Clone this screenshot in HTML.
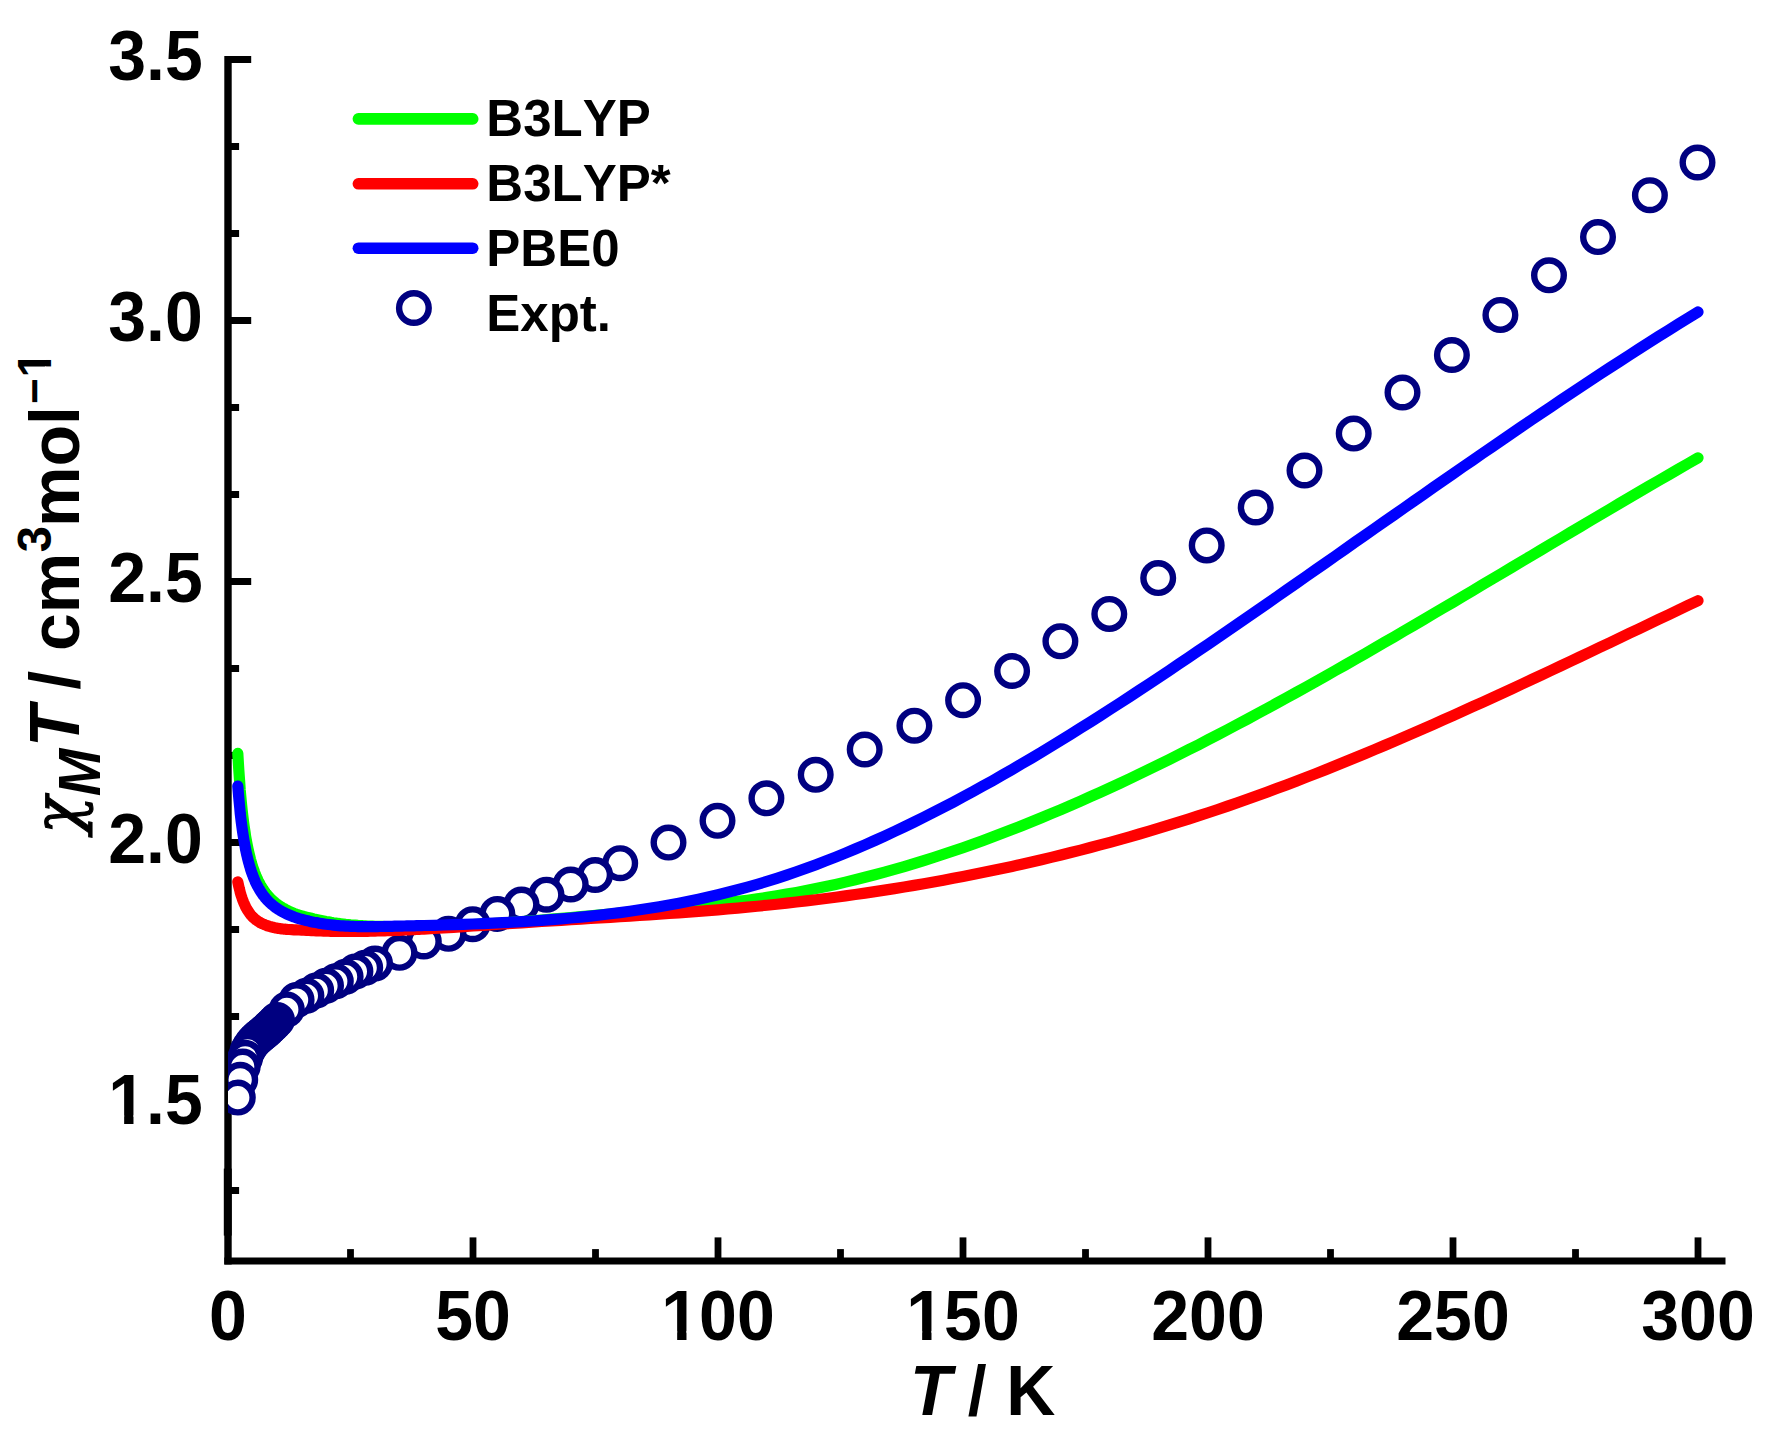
<!DOCTYPE html>
<html lang="en"><head><meta charset="utf-8"><title>chi_M T vs T</title>
<style>html,body{margin:0;padding:0;background:#fff}svg{display:block}text{font-kerning:none;font-variant-ligatures:none}</style></head>
<body>
<svg width="1768" height="1440" viewBox="0 0 1768 1440">
<rect width="1768" height="1440" fill="#fff"/>
<defs><clipPath id="pa"><rect x="228" y="0" width="1540" height="1261"/></clipPath></defs>
<g fill="#000">
<rect x="224.3" y="56" width="7.4" height="1208.5"/>
<rect x="224.3" y="1257.5" width="1501.2" height="7"/>
<rect x="223.8" y="1168.6" width="7.9" height="67"/>
<rect x="228" y="56.0" width="23.2" height="7"/>
<rect x="228" y="143.0" width="11.1" height="7"/>
<rect x="228" y="230.0" width="11.1" height="7"/>
<rect x="228" y="317.0" width="23.2" height="7"/>
<rect x="228" y="404.0" width="11.1" height="7"/>
<rect x="228" y="491.0" width="11.1" height="7"/>
<rect x="228" y="578.0" width="23.2" height="7"/>
<rect x="228" y="665.0" width="11.1" height="7"/>
<rect x="228" y="752.0" width="11.1" height="7"/>
<rect x="228" y="839.0" width="23.2" height="7"/>
<rect x="228" y="926.0" width="11.1" height="7"/>
<rect x="228" y="1013.0" width="11.1" height="7"/>
<rect x="228" y="1100.0" width="23.2" height="7"/>
<rect x="228" y="1187.0" width="11.1" height="7"/>
<rect x="347.1" y="1249.1" width="6.8" height="11.9"/>
<rect x="469.6" y="1237.4" width="6.8" height="23.6"/>
<rect x="592.1" y="1249.1" width="6.8" height="11.9"/>
<rect x="714.6" y="1237.4" width="6.8" height="23.6"/>
<rect x="837.1" y="1249.1" width="6.8" height="11.9"/>
<rect x="959.6" y="1237.4" width="6.8" height="23.6"/>
<rect x="1082.1" y="1249.1" width="6.8" height="11.9"/>
<rect x="1204.6" y="1237.4" width="6.8" height="23.6"/>
<rect x="1327.1" y="1249.1" width="6.8" height="11.9"/>
<rect x="1449.6" y="1237.4" width="6.8" height="23.6"/>
<rect x="1572.1" y="1249.1" width="6.8" height="11.9"/>
<rect x="1694.6" y="1237.4" width="6.8" height="23.6"/>
</g>
<g clip-path="url(#pa)" fill="#fff" stroke="#000080" stroke-width="6.4">
<circle cx="1697.5" cy="162.5" r="14.8"/>
<circle cx="1649.9" cy="195.2" r="14.8"/>
<circle cx="1598.0" cy="237.1" r="14.8"/>
<circle cx="1549.0" cy="275.3" r="14.8"/>
<circle cx="1500.4" cy="314.9" r="14.8"/>
<circle cx="1451.9" cy="355.0" r="14.8"/>
<circle cx="1402.5" cy="392.5" r="14.8"/>
<circle cx="1353.7" cy="433.6" r="14.8"/>
<circle cx="1304.5" cy="470.5" r="14.8"/>
<circle cx="1255.7" cy="507.5" r="14.8"/>
<circle cx="1206.7" cy="545.4" r="14.8"/>
<circle cx="1158.2" cy="578.1" r="14.8"/>
<circle cx="1109.3" cy="613.9" r="14.8"/>
<circle cx="1060.4" cy="641.3" r="14.8"/>
<circle cx="1012.1" cy="671.0" r="14.8"/>
<circle cx="963.1" cy="700.2" r="14.8"/>
<circle cx="914.4" cy="725.7" r="14.8"/>
<circle cx="864.7" cy="749.5" r="14.8"/>
<circle cx="815.7" cy="774.8" r="14.8"/>
<circle cx="766.4" cy="798.3" r="14.8"/>
<circle cx="717.5" cy="820.8" r="14.8"/>
<circle cx="668.5" cy="842.6" r="14.8"/>
<circle cx="620.2" cy="863.2" r="14.8"/>
<circle cx="595.1" cy="875.0" r="14.8"/>
<circle cx="570.7" cy="884.5" r="14.8"/>
<circle cx="546.5" cy="894.7" r="14.8"/>
<circle cx="521.5" cy="904.6" r="14.8"/>
<circle cx="497.4" cy="913.9" r="14.8"/>
<circle cx="472.7" cy="924.2" r="14.8"/>
<circle cx="448.5" cy="933.8" r="14.8"/>
<circle cx="423.8" cy="941.5" r="14.8"/>
<circle cx="399.5" cy="952.8" r="14.8"/>
<circle cx="375.0" cy="963.5" r="14.8"/>
<circle cx="365.2" cy="967.7" r="14.8"/>
<circle cx="355.4" cy="971.5" r="14.8"/>
<circle cx="345.6" cy="976.7" r="14.8"/>
<circle cx="335.8" cy="981.2" r="14.8"/>
<circle cx="326.0" cy="985.7" r="14.8"/>
<circle cx="316.2" cy="990.4" r="14.8"/>
<circle cx="306.4" cy="995.7" r="14.8"/>
<circle cx="296.6" cy="1000.0" r="14.8"/>
<circle cx="286.8" cy="1009.4" r="14.8"/>
<circle cx="277.0" cy="1020.0" r="14.8"/>
<circle cx="274.6" cy="1022.5" r="14.8"/>
<circle cx="272.1" cy="1024.9" r="14.8"/>
<circle cx="269.6" cy="1027.3" r="14.8"/>
<circle cx="267.2" cy="1029.8" r="14.8"/>
<circle cx="264.8" cy="1031.8" r="14.8"/>
<circle cx="262.3" cy="1033.8" r="14.8"/>
<circle cx="259.9" cy="1035.8" r="14.8"/>
<circle cx="257.4" cy="1038.0" r="14.8"/>
<circle cx="254.9" cy="1040.3" r="14.8"/>
<circle cx="252.5" cy="1043.0" r="14.8"/>
<circle cx="250.1" cy="1046.5" r="14.8"/>
<circle cx="247.6" cy="1050.8" r="14.8"/>
<circle cx="245.2" cy="1057.8" r="14.8"/>
<circle cx="242.7" cy="1066.6" r="14.8"/>
<circle cx="240.2" cy="1079.8" r="14.8"/>
<circle cx="237.8" cy="1097.6" r="14.8"/>
</g>
<g fill="none" stroke-width="11.2" stroke-linecap="round" stroke-linejoin="round">
<path stroke="#00ff00" d="M237.8 753.4 L238.3 761.9 L238.8 769.8 L239.3 777.0 L239.8 783.7 L240.2 789.9 L240.7 795.6 L241.2 800.9 L241.7 805.9 L242.2 810.6 L242.7 814.9 L243.2 819.0 L243.7 822.9 L244.2 826.5 L244.7 829.9 L245.2 833.1 L245.6 836.2 L246.1 839.0 L246.6 841.8 L247.1 844.4 L247.6 846.9 L248.1 849.2 L248.6 851.5 L249.1 853.6 L249.6 855.6 L250.1 857.6 L250.5 859.5 L251.0 861.2 L251.5 863.0 L252.0 864.6 L252.5 866.2 L253.0 867.7 L253.5 869.1 L254.0 870.5 L254.5 871.9 L255.0 873.2 L255.4 874.4 L255.9 875.6 L256.4 876.8 L256.9 877.9 L257.4 879.0 L257.9 880.0 L258.4 881.1 L258.9 882.0 L259.4 883.0 L259.9 883.9 L260.3 884.8 L260.8 885.6 L261.3 886.5 L261.8 887.3 L262.3 888.1 L262.8 888.8 L263.3 889.6 L263.8 890.3 L264.3 891.0 L264.8 891.7 L265.2 892.3 L265.7 893.0 L266.2 893.6 L266.7 894.2 L267.2 894.8 L267.7 895.4 L268.2 896.0 L268.7 896.5 L269.2 897.0 L269.7 897.6 L270.1 898.1 L270.6 898.6 L271.1 899.1 L271.6 899.5 L272.1 900.0 L272.6 900.5 L273.1 900.9 L273.6 901.3 L274.1 901.8 L274.6 902.2 L275.0 902.6 L275.5 903.0 L276.0 903.4 L276.5 903.7 L277.0 904.1 L277.5 904.5 L278.0 904.8 L278.5 905.2 L279.0 905.5 L279.5 905.8 L279.9 906.2 L280.4 906.5 L280.9 906.8 L281.4 907.1 L281.9 907.4 L282.4 907.7 L282.9 908.0 L283.4 908.3 L283.9 908.6 L284.4 908.8 L284.8 909.1 L285.3 909.4 L285.8 909.6 L286.3 909.9 L286.8 910.2 L289.2 911.3 L291.7 912.4 L294.1 913.4 L296.6 914.3 L299.1 915.1 L301.5 915.8 L303.9 916.5 L306.4 917.1 L308.9 917.7 L311.3 918.3 L313.8 918.9 L316.2 919.4 L318.6 919.9 L321.1 920.4 L323.6 920.9 L326.0 921.4 L328.4 921.8 L330.9 922.3 L333.4 922.7 L335.8 923.0 L338.2 923.4 L340.7 923.7 L343.1 924.0 L345.6 924.3 L348.1 924.5 L350.5 924.8 L352.9 925.0 L355.4 925.2 L357.9 925.4 L360.3 925.5 L362.8 925.7 L365.2 925.8 L367.6 926.0 L370.1 926.1 L372.6 926.2 L375.0 926.3 L377.5 926.3 L379.9 926.4 L382.4 926.4 L384.8 926.5 L387.2 926.5 L389.7 926.6 L392.1 926.6 L394.6 926.6 L397.1 926.6 L399.5 926.6 L402.0 926.6 L404.4 926.6 L406.9 926.6 L409.3 926.6 L411.8 926.6 L414.2 926.6 L416.6 926.5 L419.1 926.5 L421.6 926.5 L424.0 926.4 L433.8 926.2 L443.6 925.9 L453.4 925.6 L463.2 925.2 L473.0 924.7 L482.8 924.2 L492.6 923.6 L502.4 923.0 L512.2 922.3 L522.0 921.6 L531.8 920.8 L541.6 920.0 L551.4 919.2 L561.2 918.4 L571.0 917.5 L580.8 916.7 L590.6 915.8 L600.4 914.9 L610.2 914.0 L620.0 913.1 L629.8 912.2 L639.6 911.3 L649.4 910.4 L659.2 909.5 L669.0 908.6 L678.8 907.7 L688.6 906.8 L698.4 905.8 L708.2 904.8 L718.0 903.8 L727.8 902.6 L737.6 901.4 L747.4 900.2 L757.2 898.8 L767.0 897.4 L776.8 895.8 L786.6 894.1 L796.4 892.4 L806.2 890.5 L816.0 888.6 L825.8 886.5 L835.6 884.4 L845.4 882.1 L855.2 879.8 L865.0 877.3 L874.8 874.8 L884.6 872.1 L894.4 869.4 L904.2 866.6 L914.0 863.6 L923.8 860.6 L933.6 857.5 L943.4 854.3 L953.2 851.0 L963.0 847.7 L972.8 844.2 L982.6 840.7 L992.4 837.0 L1002.2 833.3 L1012.0 829.6 L1021.8 825.7 L1031.6 821.8 L1041.4 817.8 L1051.2 813.7 L1061.0 809.6 L1070.8 805.3 L1080.6 801.1 L1090.4 796.7 L1100.2 792.3 L1110.0 787.8 L1119.8 783.3 L1129.6 778.7 L1139.4 774.0 L1149.2 769.3 L1159.0 764.5 L1168.8 759.7 L1178.6 754.8 L1188.4 749.8 L1198.2 744.9 L1208.0 739.8 L1217.8 734.7 L1227.6 729.6 L1237.4 724.4 L1247.2 719.2 L1257.0 713.9 L1266.8 708.6 L1276.6 703.3 L1286.4 697.9 L1296.2 692.5 L1306.0 687.1 L1315.8 681.6 L1325.6 676.1 L1335.4 670.5 L1345.2 665.0 L1355.0 659.4 L1364.8 653.8 L1374.6 648.1 L1384.4 642.4 L1394.2 636.8 L1404.0 631.0 L1413.8 625.3 L1423.6 619.6 L1433.4 613.8 L1443.2 608.0 L1453.0 602.3 L1462.8 596.5 L1472.6 590.7 L1482.4 584.8 L1492.2 579.0 L1502.0 573.2 L1511.8 567.4 L1521.6 561.5 L1531.4 555.7 L1541.2 549.9 L1551.0 544.0 L1560.8 538.2 L1570.6 532.4 L1580.4 526.6 L1590.2 520.8 L1600.0 515.0 L1609.8 509.2 L1619.6 503.4 L1629.4 497.7 L1639.2 491.9 L1649.0 486.2 L1658.8 480.5 L1668.6 474.8 L1678.4 469.1 L1688.2 463.5 L1698.0 457.9"/>
<path stroke="#ff0000" d="M237.8 881.9 L238.3 884.2 L238.8 886.4 L239.3 888.5 L239.8 890.4 L240.2 892.2 L240.7 894.0 L241.2 895.6 L241.7 897.1 L242.2 898.6 L242.7 899.9 L243.2 901.2 L243.7 902.5 L244.2 903.6 L244.7 904.7 L245.2 905.8 L245.6 906.8 L246.1 907.7 L246.6 908.6 L247.1 909.5 L247.6 910.3 L248.1 911.1 L248.6 911.8 L249.1 912.5 L249.6 913.2 L250.1 913.9 L250.5 914.5 L251.0 915.1 L251.5 915.6 L252.0 916.2 L252.5 916.7 L253.0 917.2 L253.5 917.7 L254.0 918.1 L254.5 918.6 L255.0 919.0 L255.4 919.4 L255.9 919.8 L256.4 920.1 L256.9 920.5 L257.4 920.8 L257.9 921.2 L258.4 921.5 L258.9 921.8 L259.4 922.1 L259.9 922.4 L260.3 922.7 L260.8 922.9 L261.3 923.2 L261.8 923.4 L262.3 923.7 L262.8 923.9 L263.3 924.1 L263.8 924.3 L264.3 924.5 L264.8 924.7 L265.2 924.9 L265.7 925.1 L266.2 925.3 L266.7 925.5 L267.2 925.7 L267.7 925.8 L268.2 926.0 L268.7 926.1 L269.2 926.3 L269.7 926.4 L270.1 926.6 L270.6 926.7 L271.1 926.8 L271.6 927.0 L272.1 927.1 L272.6 927.2 L273.1 927.3 L273.6 927.5 L274.1 927.6 L274.6 927.7 L275.0 927.8 L275.5 927.9 L276.0 928.0 L276.5 928.1 L277.0 928.2 L277.5 928.3 L278.0 928.3 L278.5 928.4 L279.0 928.5 L279.5 928.6 L279.9 928.6 L280.4 928.7 L280.9 928.8 L281.4 928.8 L281.9 928.9 L282.4 928.9 L282.9 929.0 L283.4 929.1 L283.9 929.1 L284.4 929.1 L284.8 929.2 L285.3 929.2 L285.8 929.3 L286.3 929.3 L286.8 929.4 L289.2 929.5 L291.7 929.6 L294.1 929.8 L296.6 929.9 L299.1 930.0 L301.5 930.1 L303.9 930.2 L306.4 930.3 L308.9 930.5 L311.3 930.6 L313.8 930.7 L316.2 930.8 L318.6 930.9 L321.1 931.0 L323.6 931.1 L326.0 931.2 L328.4 931.2 L330.9 931.3 L333.4 931.3 L335.8 931.4 L338.2 931.4 L340.7 931.4 L343.1 931.4 L345.6 931.5 L348.1 931.5 L350.5 931.5 L352.9 931.4 L355.4 931.4 L357.9 931.4 L360.3 931.4 L362.8 931.4 L365.2 931.3 L367.6 931.3 L370.1 931.2 L372.6 931.2 L375.0 931.1 L377.5 931.0 L379.9 931.0 L382.4 930.9 L384.8 930.8 L387.2 930.7 L389.7 930.6 L392.1 930.6 L394.6 930.5 L397.1 930.4 L399.5 930.3 L402.0 930.2 L404.4 930.0 L406.9 929.9 L409.3 929.8 L411.8 929.7 L414.2 929.6 L416.6 929.5 L419.1 929.3 L421.6 929.2 L424.0 929.1 L433.8 928.5 L443.6 927.9 L453.4 927.3 L463.2 926.7 L473.0 926.0 L482.8 925.4 L492.6 924.7 L502.4 924.0 L512.2 923.4 L522.0 922.8 L531.8 922.1 L541.6 921.5 L551.4 920.9 L561.2 920.3 L571.0 919.7 L580.8 919.1 L590.6 918.5 L600.4 918.0 L610.2 917.3 L620.0 916.7 L629.8 916.1 L639.6 915.5 L649.4 914.8 L659.2 914.2 L669.0 913.5 L678.8 912.8 L688.6 912.1 L698.4 911.3 L708.2 910.6 L718.0 909.8 L727.8 908.9 L737.6 908.1 L747.4 907.2 L757.2 906.2 L767.0 905.2 L776.8 904.2 L786.6 903.1 L796.4 902.0 L806.2 900.9 L816.0 899.7 L825.8 898.5 L835.6 897.2 L845.4 895.9 L855.2 894.5 L865.0 893.1 L874.8 891.6 L884.6 890.1 L894.4 888.6 L904.2 887.0 L914.0 885.4 L923.8 883.7 L933.6 882.0 L943.4 880.2 L953.2 878.3 L963.0 876.5 L972.8 874.5 L982.6 872.6 L992.4 870.5 L1002.2 868.5 L1012.0 866.4 L1021.8 864.2 L1031.6 862.0 L1041.4 859.7 L1051.2 857.4 L1061.0 855.0 L1070.8 852.5 L1080.6 850.1 L1090.4 847.5 L1100.2 844.9 L1110.0 842.3 L1119.8 839.6 L1129.6 836.8 L1139.4 834.0 L1149.2 831.1 L1159.0 828.2 L1168.8 825.2 L1178.6 822.2 L1188.4 819.1 L1198.2 815.9 L1208.0 812.7 L1217.8 809.5 L1227.6 806.1 L1237.4 802.7 L1247.2 799.3 L1257.0 795.8 L1266.8 792.2 L1276.6 788.6 L1286.4 784.9 L1296.2 781.2 L1306.0 777.4 L1315.8 773.6 L1325.6 769.7 L1335.4 765.8 L1345.2 761.8 L1355.0 757.8 L1364.8 753.8 L1374.6 749.7 L1384.4 745.5 L1394.2 741.3 L1404.0 737.1 L1413.8 732.9 L1423.6 728.6 L1433.4 724.3 L1443.2 719.9 L1453.0 715.6 L1462.8 711.2 L1472.6 706.7 L1482.4 702.3 L1492.2 697.8 L1502.0 693.3 L1511.8 688.8 L1521.6 684.2 L1531.4 679.6 L1541.2 675.1 L1551.0 670.5 L1560.8 665.9 L1570.6 661.2 L1580.4 656.6 L1590.2 652.0 L1600.0 647.3 L1609.8 642.7 L1619.6 638.0 L1629.4 633.3 L1639.2 628.7 L1649.0 624.0 L1658.8 619.3 L1668.6 614.7 L1678.4 610.0 L1688.2 605.3 L1698.0 600.7"/>
<path stroke="#0000ff" d="M237.8 786.1 L238.3 792.2 L238.8 798.0 L239.3 803.3 L239.8 808.3 L240.2 813.0 L240.7 817.4 L241.2 821.5 L241.7 825.3 L242.2 829.0 L242.7 832.4 L243.2 835.7 L243.7 838.7 L244.2 841.7 L244.7 844.4 L245.2 847.0 L245.6 849.5 L246.1 851.9 L246.6 854.2 L247.1 856.3 L247.6 858.4 L248.1 860.4 L248.6 862.3 L249.1 864.1 L249.6 865.8 L250.1 867.4 L250.5 869.0 L251.0 870.6 L251.5 872.0 L252.0 873.4 L252.5 874.8 L253.0 876.1 L253.5 877.4 L254.0 878.6 L254.5 879.7 L255.0 880.9 L255.4 882.0 L255.9 883.0 L256.4 884.0 L256.9 885.0 L257.4 886.0 L257.9 886.9 L258.4 887.8 L258.9 888.6 L259.4 889.5 L259.9 890.3 L260.3 891.1 L260.8 891.8 L261.3 892.6 L261.8 893.3 L262.3 894.0 L262.8 894.7 L263.3 895.4 L263.8 896.0 L264.3 896.6 L264.8 897.2 L265.2 897.8 L265.7 898.4 L266.2 899.0 L266.7 899.5 L267.2 900.0 L267.7 900.6 L268.2 901.1 L268.7 901.6 L269.2 902.1 L269.7 902.5 L270.1 903.0 L270.6 903.4 L271.1 903.9 L271.6 904.3 L272.1 904.7 L272.6 905.1 L273.1 905.5 L273.6 905.9 L274.1 906.3 L274.6 906.7 L275.0 907.1 L275.5 907.4 L276.0 907.8 L276.5 908.1 L277.0 908.4 L277.5 908.8 L278.0 909.1 L278.5 909.4 L279.0 909.7 L279.5 910.0 L279.9 910.3 L280.4 910.6 L280.9 910.9 L281.4 911.2 L281.9 911.5 L282.4 911.7 L282.9 912.0 L283.4 912.3 L283.9 912.5 L284.4 912.8 L284.8 913.0 L285.3 913.3 L285.8 913.5 L286.3 913.7 L286.8 914.0 L289.2 915.0 L291.7 916.0 L294.1 917.0 L296.6 917.8 L299.1 918.6 L301.5 919.3 L303.9 919.9 L306.4 920.6 L308.9 921.1 L311.3 921.7 L313.8 922.2 L316.2 922.6 L318.6 923.1 L321.1 923.5 L323.6 923.9 L326.0 924.2 L328.4 924.5 L330.9 924.8 L333.4 925.1 L335.8 925.4 L338.2 925.6 L340.7 925.8 L343.1 925.9 L345.6 926.1 L348.1 926.2 L350.5 926.3 L352.9 926.4 L355.4 926.5 L357.9 926.6 L360.3 926.6 L362.8 926.6 L365.2 926.6 L367.6 926.6 L370.1 926.6 L372.6 926.6 L375.0 926.6 L377.5 926.6 L379.9 926.5 L382.4 926.5 L384.8 926.4 L387.2 926.4 L389.7 926.3 L392.1 926.3 L394.6 926.2 L397.1 926.2 L399.5 926.1 L402.0 926.1 L404.4 926.0 L406.9 925.9 L409.3 925.9 L411.8 925.8 L414.2 925.8 L416.6 925.7 L419.1 925.6 L421.6 925.6 L424.0 925.5 L433.8 925.3 L443.6 925.0 L453.4 924.7 L463.2 924.4 L473.0 924.0 L482.8 923.6 L492.6 923.2 L502.4 922.7 L512.2 922.2 L522.0 921.6 L531.8 921.0 L541.6 920.4 L551.4 919.6 L561.2 918.8 L571.0 918.0 L580.8 917.1 L590.6 916.1 L600.4 915.0 L610.2 913.8 L620.0 912.6 L629.8 911.3 L639.6 909.8 L649.4 908.3 L659.2 906.7 L669.0 905.0 L678.8 903.2 L688.6 901.2 L698.4 899.2 L708.2 897.0 L718.0 894.7 L727.8 892.3 L737.6 889.8 L747.4 887.1 L757.2 884.3 L767.0 881.4 L776.8 878.3 L786.6 875.1 L796.4 871.8 L806.2 868.3 L816.0 864.7 L825.8 860.9 L835.6 857.1 L845.4 853.1 L855.2 849.0 L865.0 844.8 L874.8 840.5 L884.6 836.1 L894.4 831.5 L904.2 826.9 L914.0 822.1 L923.8 817.3 L933.6 812.3 L943.4 807.3 L953.2 802.2 L963.0 796.9 L972.8 791.6 L982.6 786.2 L992.4 780.8 L1002.2 775.2 L1012.0 769.6 L1021.8 763.8 L1031.6 758.1 L1041.4 752.2 L1051.2 746.3 L1061.0 740.3 L1070.8 734.2 L1080.6 728.1 L1090.4 721.9 L1100.2 715.7 L1110.0 709.4 L1119.8 703.1 L1129.6 696.7 L1139.4 690.3 L1149.2 683.8 L1159.0 677.3 L1168.8 670.8 L1178.6 664.2 L1188.4 657.6 L1198.2 650.9 L1208.0 644.3 L1217.8 637.6 L1227.6 630.9 L1237.4 624.1 L1247.2 617.4 L1257.0 610.6 L1266.8 603.8 L1276.6 597.0 L1286.4 590.2 L1296.2 583.3 L1306.0 576.5 L1315.8 569.7 L1325.6 562.8 L1335.4 556.0 L1345.2 549.1 L1355.0 542.2 L1364.8 535.4 L1374.6 528.5 L1384.4 521.7 L1394.2 514.8 L1404.0 508.0 L1413.8 501.1 L1423.6 494.3 L1433.4 487.4 L1443.2 480.6 L1453.0 473.8 L1462.8 467.0 L1472.6 460.3 L1482.4 453.5 L1492.2 446.8 L1502.0 440.1 L1511.8 433.4 L1521.6 426.7 L1531.4 420.0 L1541.2 413.4 L1551.0 406.8 L1560.8 400.2 L1570.6 393.7 L1580.4 387.2 L1590.2 380.7 L1600.0 374.2 L1609.8 367.8 L1619.6 361.5 L1629.4 355.1 L1639.2 348.8 L1649.0 342.6 L1658.8 336.3 L1668.6 330.2 L1678.4 324.0 L1688.2 318.0 L1698.0 311.9"/>
</g>
<g font-family="'Liberation Sans', Arial, sans-serif" fill="#000">
<text transform="translate(202.80 1123.90) scale(1 1.03)" font-size="68px" font-weight="bold" text-anchor="end">1.5</text>
<text transform="translate(202.80 862.90) scale(1 1.03)" font-size="68px" font-weight="bold" text-anchor="end">2.0</text>
<text transform="translate(202.80 601.90) scale(1 1.03)" font-size="68px" font-weight="bold" text-anchor="end">2.5</text>
<text transform="translate(202.80 340.90) scale(1 1.03)" font-size="68px" font-weight="bold" text-anchor="end">3.0</text>
<text transform="translate(202.80 79.90) scale(1 1.03)" font-size="68px" font-weight="bold" text-anchor="end">3.5</text>
<text transform="translate(228.00 1339.60) scale(1 1.03)" font-size="68px" font-weight="bold" text-anchor="middle">0</text>
<text transform="translate(473.00 1339.60) scale(1 1.03)" font-size="68px" font-weight="bold" text-anchor="middle">50</text>
<text transform="translate(718.00 1339.60) scale(1 1.03)" font-size="68px" font-weight="bold" text-anchor="middle">100</text>
<text transform="translate(963.00 1339.60) scale(1 1.03)" font-size="68px" font-weight="bold" text-anchor="middle">150</text>
<text transform="translate(1208.00 1339.60) scale(1 1.03)" font-size="68px" font-weight="bold" text-anchor="middle">200</text>
<text transform="translate(1453.00 1339.60) scale(1 1.03)" font-size="68px" font-weight="bold" text-anchor="middle">250</text>
<text transform="translate(1698.00 1339.60) scale(1 1.03)" font-size="68px" font-weight="bold" text-anchor="middle">300</text>
<text transform="translate(0 1415) scale(1 1.03)" font-size="68px" font-weight="bold"><tspan x="910.1" font-style="italic">T</tspan> <tspan x="967.8">/</tspan> <tspan x="1006.2">K</tspan></text>
<text transform="translate(78.8 840) rotate(-90) scale(1 1.03)" font-size="68px" font-weight="bold"><tspan x="6.2" y="0" font-family="'DejaVu Serif', 'Liberation Serif', serif" font-style="italic" font-weight="normal" font-size="62px" stroke="#000" stroke-width="1.1">χ</tspan><tspan x="43.65" y="20.78" font-size="57px" font-style="italic">M</tspan><tspan x="92.95" y="0" font-style="italic">T</tspan> <tspan x="150.3" y="0">/</tspan> <tspan x="188.95" y="0">cm</tspan><tspan x="287.7" y="-26.60" font-size="47px">3</tspan><tspan x="313.1" y="0">mol</tspan><tspan x="436" y="-28.20" font-size="44px">−</tspan><tspan x="462.6" y="-26.60" font-size="47px">1</tspan></text>
</g>
<g fill="#fff">
<rect x="111.56" y="1115.25" width="12.59" height="9.65"/><rect x="133.48" y="1115.25" width="11.72" height="9.65"/>
<rect x="664.57" y="1330.95" width="12.59" height="9.65"/><rect x="686.49" y="1330.95" width="11.72" height="9.65"/>
<rect x="909.57" y="1330.95" width="12.59" height="9.65"/><rect x="931.49" y="1330.95" width="11.72" height="9.65"/>
<g transform="translate(78.8 840) rotate(-90)"><rect x="464.56" y="-33.84" width="9.01" height="7.44"/><rect x="480.02" y="-33.84" width="8.41" height="7.44"/></g>
</g>
<g stroke-width="11.6" stroke-linecap="round" fill="none">
<line x1="358.4" y1="118.9" x2="472.7" y2="118.9" stroke="#00ff00"/>
<line x1="358.4" y1="183.8" x2="472.7" y2="183.8" stroke="#ff0000"/>
<line x1="358.4" y1="248.2" x2="472.7" y2="248.2" stroke="#0000ff"/>
</g>
<circle cx="413.9" cy="308" r="14.8" fill="#fff" stroke="#000080" stroke-width="6.4"/>
<g font-family="'Liberation Sans', Arial, sans-serif" fill="#000">
<text transform="translate(486.30 136.20) scale(1 1.03)" font-size="51px" font-weight="bold" text-anchor="start">B3LYP</text>
<text transform="translate(486.30 201.20) scale(1 1.03)" font-size="51px" font-weight="bold" text-anchor="start">B3LYP*</text>
<text transform="translate(486.30 265.80) scale(1 1.03)" font-size="51px" font-weight="bold" text-anchor="start">PBE0</text>
<text transform="translate(486.30 331.00) scale(1 1.03)" font-size="51px" font-weight="bold" text-anchor="start">Expt.</text>
</g>
</svg>
</body></html>
